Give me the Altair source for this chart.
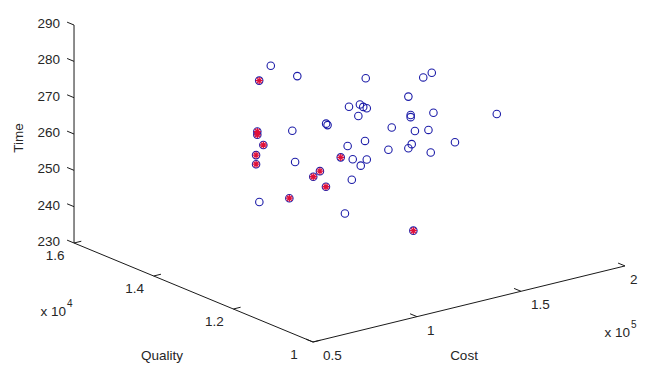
import altair as alt
import pandas as pd

# ---- data: Cost (x1e5), Quality (x1e4), Time ----
open_cost = [1.063, 0.999, 1.328, 1.056, 1.300, 1.316, 1.333, 1.484, 1.453, 0.946,
             0.953, 0.975, 1.241, 1.516, 1.437, 1.074, 1.333, 1.304, 0.797, 1.261,
             0.625, 1.228, 1.454, 1.413, 1.533, 1.544, 1.544, 1.462, 1.958, 1.756,
             1.438, 1.757, 1.533, 1.549, 1.832]
open_quality = [1.4, 1.3, 1.3, 1.2, 1.3, 1.3, 1.3, 1.4, 1.3, 1.2,
                 1.2, 1.3, 1.3, 1.4, 1.3, 1.2, 1.3, 1.3, 1.2, 1.3,
                 1.2, 1.3, 1.2, 1.2, 1.3, 1.3, 1.3, 1.2, 1.3, 1.4,
                 1.2, 1.3, 1.3, 1.3, 1.4]
open_time = [280.0, 282.6, 277.4, 277.9, 270.6, 269.7, 269.1, 260.3, 262.1, 274.8,
             274.3, 267.9, 260.0, 253.0, 256.2, 263.2, 255.0, 253.7, 266.3, 250.4,
             257.7, 241.6, 281.7, 281.0, 269.5, 264.3, 263.7, 270.6, 258.8, 252.4,
             266.2, 253.8, 255.3, 256.2, 245.4]

red_cost = [1.103, 1.094, 1.094, 1.123, 1.088, 1.088, 1.495, 1.395, 1.363, 1.424, 1.248, 1.174]
red_quality = [1.45, 1.45, 1.45, 1.45, 1.45, 1.45, 1.45, 1.45, 1.45, 1.45, 1.45, 1.1]
red_time = [273.1, 259.2, 258.3, 255.1, 252.8, 250.3, 246.5, 244.1, 243.0, 239.4, 238.7, 246.7]

cost_ticks = [0.5, 1.0, 1.5, 2.0]
cost_tick_labels = ["0.5", "1", "1.5", "2"]
quality_ticks = [1.0, 1.2, 1.4, 1.6]
quality_tick_labels = ["1", "1.2", "1.4", "1.6"]
time_ticks = [230, 240, 250, 260, 270, 280, 290]

# ---- 3D view projection (orthographic, MATLAB default view) ----
def proj(c, q, t):
    X = 313 + (c - 0.5) * 208.0 - (q - 1.0) * 398.3
    Y = 342 - (c - 0.5) * 50.7 - (q - 1.0) * 165.0 - (t - 230) * 3.633
    return X, Y

FONT = "Liberation Sans"
FS = 13.5
TXT = "#262626"
AX = "#1a1a1a"
BLUE = "#1c1ca8"
RED = "#e0103a"

xs = alt.Scale(domain=[8, 638], zero=False, nice=False)
ys = alt.Scale(domain=[8, 364], zero=False, nice=False, reverse=True)

def X(f="X"):
    return alt.X(f"{f}:Q", scale=xs, axis=None)

def Y(f="Y"):
    return alt.Y(f"{f}:Q", scale=ys, axis=None)

# axis lines
segs = []
for a, b in [((0.5, 1.6, 230), (0.5, 1.6, 290)),
             ((0.5, 1.6, 230), (0.5, 1.0, 230)),
             ((0.5, 1.0, 230), (2.0, 1.0, 230))]:
    x1, y1 = proj(*a)
    x2, y2 = proj(*b)
    segs.append({"X": x1, "Y": y1, "X2": x2, "Y2": y2})

# ticks
L = 7.5
qd = (-0.924 * L, -0.383 * L)
cd = (0.971 * L, -0.237 * L)
for t in time_ticks:
    x1, y1 = proj(0.5, 1.6, t)
    segs.append({"X": x1, "Y": y1, "X2": x1 + qd[0], "Y2": y1 + qd[1]})
for c in cost_ticks:
    x1, y1 = proj(c, 1.0, 230)
    segs.append({"X": x1, "Y": y1, "X2": x1 + qd[0], "Y2": y1 + qd[1]})
for q in quality_ticks:
    x1, y1 = proj(0.5, q, 230)
    segs.append({"X": x1, "Y": y1, "X2": x1 + cd[0], "Y2": y1 + cd[1]})
seg_df = pd.DataFrame(segs)

rules = alt.Chart(seg_df).mark_rule(color=AX, strokeWidth=1).encode(
    x=X(), y=Y(), x2="X2:Q", y2="Y2:Q")

# tick labels
tl = pd.DataFrame([{"X": proj(0.5, 1.6, t)[0], "Y": proj(0.5, 1.6, t)[1], "label": str(t)} for t in time_ticks])
ql = pd.DataFrame([{"X": proj(0.5, q, 230)[0], "Y": proj(0.5, q, 230)[1], "label": s}
                   for q, s in zip(quality_ticks, quality_tick_labels)])
cl = pd.DataFrame([{"X": min(proj(c, 1.0, 230)[0] + 10, 630), "Y": proj(c, 1.0, 230)[1], "label": s}
                   for c, s in zip(cost_ticks, cost_tick_labels)])

time_lab = alt.Chart(tl).mark_text(align="right", baseline="middle", dx=-14, dy=-1,
                                   font=FONT, fontSize=FS, color=TXT).encode(x=X(), y=Y(), text="label:N")
qual_lab = alt.Chart(ql).mark_text(align="center", baseline="middle", dx=-19, dy=13,
                                   font=FONT, fontSize=FS, color=TXT).encode(x=X(), y=Y(), text="label:N")
cost_lab = alt.Chart(cl).mark_text(align="left", baseline="middle", dx=0, dy=14,
                                   font=FONT, fontSize=FS, color=TXT).encode(x=X(), y=Y(), text="label:N")

# titles and exponents
titles = pd.DataFrame([
    {"X": 464, "Y": 360, "label": "Cost"},
    {"X": 162, "Y": 360, "label": "Quality"},
])
title_lab = alt.Chart(titles).mark_text(align="center", baseline="alphabetic",
                                        font=FONT, fontSize=FS, color=TXT).encode(x=X(), y=Y(), text="label:N")
time_title = alt.Chart(pd.DataFrame([{"X": 19, "Y": 138, "label": "Time"}])).mark_text(
    align="center", baseline="middle", angle=270, font=FONT, fontSize=FS, color=TXT).encode(
    x=X(), y=Y(), text="label:N")

exp_base = pd.DataFrame([
    {"X": 66, "Y": 312, "label": "x 10"},
    {"X": 630, "Y": 333, "label": "x 10"},
])
exp_sup = pd.DataFrame([
    {"X": 67, "Y": 304, "label": "4"},
    {"X": 631, "Y": 325, "label": "5"},
])
exp_b = alt.Chart(exp_base).mark_text(align="right", baseline="middle", font=FONT, fontSize=FS,
                                      color=TXT).encode(x=X(), y=Y(), text="label:N")
exp_s = alt.Chart(exp_sup).mark_text(align="left", baseline="middle", font=FONT, fontSize=10,
                                     color=TXT).encode(x=X(), y=Y(), text="label:N")

# points
op = [proj(c, q, t) for c, q, t in zip(open_cost, open_quality, open_time)]
rp = [proj(c, q, t) for c, q, t in zip(red_cost, red_quality, red_time)]
open_df = pd.DataFrame({"X": [p[0] for p in op], "Y": [p[1] for p in op]})
red_df = pd.DataFrame({"X": [p[0] for p in rp], "Y": [p[1] for p in rp]})

open_pts = alt.Chart(open_df).mark_point(shape="circle", filled=False, size=56, strokeWidth=1.1,
                                         color=BLUE, opacity=1).encode(x=X(), y=Y())
red_circ = alt.Chart(red_df).mark_point(shape="circle", filled=False, size=56, strokeWidth=1.1,
                                        color=BLUE, opacity=1).encode(x=X(), y=Y())
ASTER = "M-1,0L1,0M0,-1L0,1M-0.71,-0.71L0.71,0.71M-0.71,0.71L0.71,-0.71"
red_star = alt.Chart(red_df).mark_point(shape=ASTER, filled=False, size=50, strokeWidth=1.3,
                                        color=RED, opacity=1).encode(x=X(), y=Y())

chart = alt.layer(rules, time_lab, qual_lab, cost_lab, title_lab, time_title, exp_b, exp_s,
                  open_pts, red_circ, red_star).properties(
    width=630, height=356, autosize=alt.AutoSizeParams(type="none"), padding=0,
    background="white").configure_view(stroke=None)

chart.save("out.html", embed_options={"renderer": "svg", "actions": False})
